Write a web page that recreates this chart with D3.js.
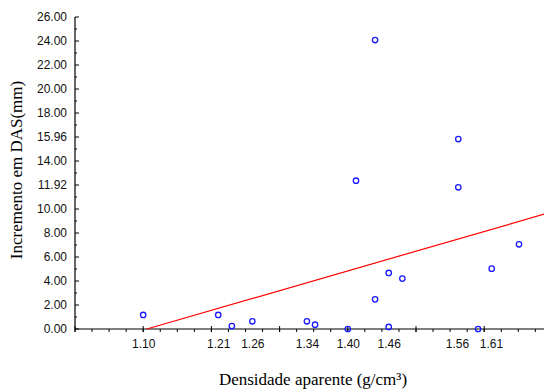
<!DOCTYPE html>
<html>
<head>
<meta charset="utf-8">
<script src="https://cdn.jsdelivr.net/npm/d3@7"></script>
<style>
  body { margin: 0; background: #fff; }
  svg { display: block; }
</style>
</head>
<body>
<div id="viz"></div>
<script>
// densidade aparente (g/cm3) vs incremento em DAS (mm)
let density = [1.10, 1.21, 1.23, 1.26, 1.34, 1.352, 1.40, 1.44, 1.46, 1.46, 1.48, 1.591, 1.611, 1.651, 1.44, 1.562, 1.412, 1.562];
let increment = [1.17, 1.17, 0.25, 0.64, 0.64, 0.36, 0.0, 2.47, 4.67, 0.17, 4.2, 0.0, 5.03, 7.06, 24.08, 15.83, 12.36, 11.81];

// regression line y = a + b*x
let intercept = -18.16, slope = 16.43;

let xTickValues = [1.10, 1.21, 1.26, 1.34, 1.40, 1.46, 1.56, 1.61];
let yTickValues = [0, 2, 4, 6, 8, 10, 12, 14, 16, 18, 20, 22, 24, 26];
let yTickLabels = ['0.00', '2.00', '4.00', '6.00', '8.00', '10.00', '11.92', '14.00', '15.96', '18.00', '20.00', '22.00', '24.00', '26.00'];

let width = 544, height = 389;
let margin = { top: 17, left: 75, bottom: 60 };

let x = d3.scaleLinear().domain([1.0, 1.7]).range([margin.left, margin.left + 0.7 * 682]);
let y = d3.scaleLinear().domain([0, 26]).range([height - margin.bottom, margin.top]);

let svg = d3.select('#viz').append('svg')
    .attr('width', width)
    .attr('height', height);

// minor ticks
let xMinor = d3.range(1.0, 1.7001, 0.025);
svg.append('g').selectAll('line').data(xMinor).enter().append('line')
    .attr('x1', d => x(d)).attr('x2', d => x(d))
    .attr('y1', y(0)).attr('y2', y(0) + 3)
    .attr('stroke', '#000');
svg.append('g').selectAll('line').data(d3.range(1.0, 1.7001, 0.1)).enter().append('line')
    .attr('x1', d => x(d)).attr('x2', d => x(d))
    .attr('y1', y(0) - 3).attr('y2', y(0) + 3)
    .attr('stroke', '#000');

svg.append('g').selectAll('line').data(d3.range(0, 27, 1)).enter().append('line')
    .attr('x1', x(1.0)).attr('x2', d => x(1.0) + (d % 2 === 0 ? 4 : 2))
    .attr('y1', d => y(d)).attr('y2', d => y(d))
    .attr('stroke', '#000');

let xAxis = d3.axisBottom(x)
    .tickValues(xTickValues)
    .tickFormat(d3.format('.2f'))
    .tickSize(0)
    .tickPadding(10);

let yAxis = d3.axisLeft(y)
    .tickValues(yTickValues)
    .tickFormat((d, i) => yTickLabels[i])
    .tickSize(0)
    .tickPadding(8);

let xGuide = svg.append('g')
    .attr('transform', 'translate(0,' + y(0) + ')')
    .call(xAxis);
xGuide.select('.domain').attr('d', 'M' + x(1.0) + ',0H' + width).attr('stroke', '#000').attr('stroke-width', 1.2);

let yGuide = svg.append('g')
    .attr('transform', 'translate(' + x(1.0) + ',0)')
    .call(yAxis);
yGuide.select('.domain').attr('d', 'M0,' + y(26) + 'V' + y(0)).attr('stroke', '#000').attr('stroke-width', 1.2);

svg.selectAll('.tick text')
    .style('font-family', '"Liberation Sans", Arial, sans-serif')
    .style('font-size', '12px')
    .attr('fill', '#111');

// regression line
let x0 = -intercept / slope, x1 = 1.7;
svg.append('line')
    .attr('x1', x(x0)).attr('y1', y(intercept + slope * x0))
    .attr('x2', x(x1)).attr('y2', y(intercept + slope * x1))
    .attr('stroke', '#ff0000')
    .attr('stroke-width', 1.2);

// points
svg.append('g').selectAll('circle').data(density).enter().append('circle')
    .attr('cx', d => x(d))
    .attr('cy', (d, i) => y(increment[i]))
    .attr('r', 2.7)
    .attr('fill', 'none')
    .attr('stroke', '#1a1aff')
    .attr('stroke-width', 1.3);

// axis titles
svg.append('text')
    .attr('x', 313)
    .attr('y', 385)
    .attr('text-anchor', 'middle')
    .style('font-family', '"Liberation Serif", "Times New Roman", serif')
    .style('font-size', '17px')
    .text('Densidade aparente (g/cm³)');

svg.append('text')
    .attr('transform', 'translate(22,' + 170 + ') rotate(-90)')
    .attr('text-anchor', 'middle')
    .style('font-family', '"Liberation Serif", "Times New Roman", serif')
    .style('font-size', '17px')
    .text('Incremento em DAS(mm)');
</script>
</body>
</html>
